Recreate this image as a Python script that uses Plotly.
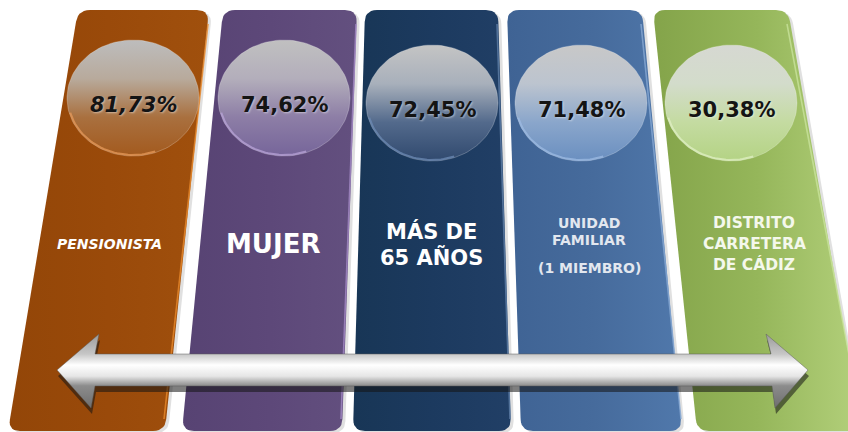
import numpy as np
import plotly.graph_objects as go


# ==========================================
# DATA
# ==========================================

categories = [
    "PENSIONISTA",
    "MUJER",
    "MÁS DE 65 AÑOS",
    "UNIDAD FAMILIAR (1 MIEMBRO)",
    "DISTRITO CARRETERA DE CÁDIZ"
]

values = [81.73, 74.62, 72.45, 71.48, 30.38]

label_lines = [
    ["PENSIONISTA"],
    ["MUJER"],
    ["MÁS DE", "65 AÑOS"],
    ["UNIDAD", "FAMILIAR", "(1 MIEMBRO)"],
    ["DISTRITO", "CARRETERA", "DE CÁDIZ"]
]


# ==========================================
# LAYOUT (pixel space, y grows downwards)
# ==========================================

W, H = 848, 432

panel_top = [(78, 209), (223, 357), (365, 498), (507, 642), (653, 788)]
panel_bottom = [(8, 165), (182, 342), (353, 511), (521, 682), (697, 862)]
PANEL_Y0, PANEL_Y1 = 10, 431

panel_colors = [
    ["#934608", "#9a4a0a", "#a0500d"],
    ["#574373", "#5d4879", "#63507f"],
    ["#183656", "#1c3a5f", "#213f66"],
    ["#3f6394", "#466b9c", "#5078ab"],
    ["#84a44a", "#95b65a", "#b3d07b"]
]
edge_colors = ["#e8892c", "#a48ac6", "#5f7fa8", "#87a9d4", "#c9e39c"]

circle_centers = [(133, 98), (284, 98), (432, 103), (581, 103), (731, 103)]
circle_rx, circle_ry = 66, 58
circle_grad = [
    ["#bdbdbd", "#b8aa9c", "#a9703f", "#a35a1e"],
    ["#c0c0c0", "#b3aebb", "#8d7ea6", "#76659a"],
    ["#c4c4c4", "#a8b0bb", "#536a8c", "#30496e"],
    ["#c8c8c8", "#bcc4cf", "#8aa6cb", "#6a8fc0"],
    ["#d6d8d2", "#d3dccb", "#c4dba1", "#b4d384"]
]
rim_colors = ["#e79a5a", "#b9a4d8", "#6d8bb5", "#9dbbe3", "#e0f0c4"]

pct_y = [105, 105, 110, 110, 110]

label_pos = [
    [(109, 244)],
    [(273, 244)],
    [(431, 231), (431, 257)],
    [(589, 223), (589, 240), (589, 268)],
    [(754, 223), (754, 244), (754, 264)]
]
label_size = [14, 26, 21, 14, 15.5]
label_color = ["#ffffff", "#ffffff", "#ffffff", "#e2e7ef", "#f4f8ec"]


# ==========================================
# HELPERS
# ==========================================

def rounded_poly(pts, r, n=8):

    pts = np.array(pts, dtype=float)
    out = []
    k = len(pts)
    for i in range(k):
        p = pts[i]
        a = pts[i - 1]
        b = pts[(i + 1) % k]
        p1 = p + r * (a - p) / np.linalg.norm(a - p)
        p2 = p + r * (b - p) / np.linalg.norm(b - p)
        for t in np.linspace(0, 1, n):
            q = (1 - t) ** 2 * p1 + 2 * (1 - t) * t * p + t ** 2 * p2
            out.append(q)
    out.append(out[0])
    out = np.array(out)
    return out[:, 0], out[:, 1]


def scale(colors):

    return [[i / (len(colors) - 1), c] for i, c in enumerate(colors)]


fig = go.Figure()


# ==========================================
# PANELS
# ==========================================

for i in range(len(categories)):

    (tl, tr), (bl, br) = panel_top[i], panel_bottom[i]
    corners = [(tl, PANEL_Y0), (tr, PANEL_Y0), (br, PANEL_Y1), (bl, PANEL_Y1)]

    # soft drop shadow
    sx, sy = rounded_poly([(x + 3, y + 2) for x, y in corners], 12)
    fig.add_trace(go.Scatter(
        x=sx, y=sy, fill="toself", mode="lines",
        line=dict(width=0), fillcolor="rgba(0,0,0,0.12)",
        hoverinfo="skip", showlegend=False
    ))

    px_, py_ = rounded_poly(corners, 12)
    fig.add_trace(go.Scatter(
        x=px_, y=py_, fill="toself", mode="lines",
        line=dict(width=0),
        fillgradient=dict(
            type="horizontal",
            colorscale=scale(panel_colors[i])
        ),
        hoverinfo="skip", showlegend=False
    ))

    # thin light edge on the right side
    fig.add_trace(go.Scatter(
        x=[tr - 1, br - 1], y=[PANEL_Y0 + 14, PANEL_Y1 - 12],
        mode="lines", line=dict(color=edge_colors[i], width=1.6),
        opacity=0.8, hoverinfo="skip", showlegend=False
    ))


# ==========================================
# GLOSSY CIRCLES + PERCENTAGES
# ==========================================

t = np.linspace(0, 2 * np.pi, 120)
for i, v in enumerate(values):

    cx, cy = circle_centers[i]
    fig.add_trace(go.Scatter(
        x=cx + circle_rx * np.cos(t),
        y=cy + circle_ry * np.sin(t),
        fill="toself", mode="lines",
        line=dict(width=0.8, color="rgba(255,255,255,0.3)"),
        fillgradient=dict(
            type="vertical",
            start=cy - circle_ry, stop=cy + circle_ry,
            colorscale=scale(circle_grad[i])
        ),
        hoverinfo="skip", showlegend=False
    ))

    arc = np.radians(np.linspace(70, 165, 40))
    fig.add_trace(go.Scatter(
        x=cx + (circle_rx - 1) * np.cos(arc),
        y=cy + (circle_ry - 1) * np.sin(arc),
        mode="lines", line=dict(color=rim_colors[i], width=2),
        opacity=0.75, hoverinfo="skip", showlegend=False
    ))

    fig.add_annotation(
        x=cx, y=pct_y[i],
        text=f"{v:.2f}".replace(".", ",") + "%",
        showarrow=False,
        font=dict(
            family="DejaVu Sans", size=21, color="#141414", weight=700,
            style="italic" if i == 0 else "normal",
            shadow="1px 1px 2px rgba(255,255,255,0.45)"
        )
    )


# ==========================================
# CATEGORY LABELS
# ==========================================

for i, lines in enumerate(label_lines):

    for line, (lx, ly) in zip(lines, label_pos[i]):
        fig.add_annotation(
            x=lx, y=ly, text=line, showarrow=False,
            font=dict(
                family="DejaVu Sans", size=label_size[i],
                color=label_color[i], weight=700,
                style="italic" if i == 0 else "normal"
            )
        )


# ==========================================
# DOUBLE ARROW
# ==========================================

arrow = [
    (57, 370), (99, 334), (95, 354), (771, 354), (766, 334),
    (808, 370), (775, 408), (772, 386), (95, 386), (91, 408), (57, 370)
]
ax = [p[0] for p in arrow]
ay = [p[1] for p in arrow]

fig.add_trace(go.Scatter(
    x=[x + 1 for x in ax], y=[y + 6 for y in ay],
    fill="toself", mode="lines", line=dict(width=0),
    fillcolor="rgba(20,20,20,0.55)",
    hoverinfo="skip", showlegend=False
))

fig.add_trace(go.Scatter(
    x=ax, y=ay, fill="toself", mode="lines",
    line=dict(width=0.8, color="rgba(90,90,90,0.6)"),
    fillgradient=dict(
        type="vertical",
        start=334, stop=408,
        colorscale=[
            [0.0, "#9a9a9a"],
            [0.27, "#c6c6c6"],
            [0.42, "#ffffff"],
            [0.57, "#e6e6e6"],
            [0.70, "#8c8c8c"],
            [1.0, "#6e6e6e"]
        ]
    ),
    hoverinfo="skip", showlegend=False
))


# ==========================================
# FIGURE LAYOUT
# ==========================================

fig.update_layout(
    width=W, height=H,
    margin=dict(l=0, r=0, t=0, b=0),
    paper_bgcolor="white",
    plot_bgcolor="white",
    xaxis=dict(range=[0, W], visible=False, fixedrange=True),
    yaxis=dict(range=[H, 0], visible=False, fixedrange=True),
    showlegend=False
)

# the page body has a default 8px margin; drop it so pixels line up
fig.write_html(
    "out.html",
    config={"displayModeBar": False},
    post_script="document.body.style.margin='0';document.body.style.overflow='hidden';"
)
